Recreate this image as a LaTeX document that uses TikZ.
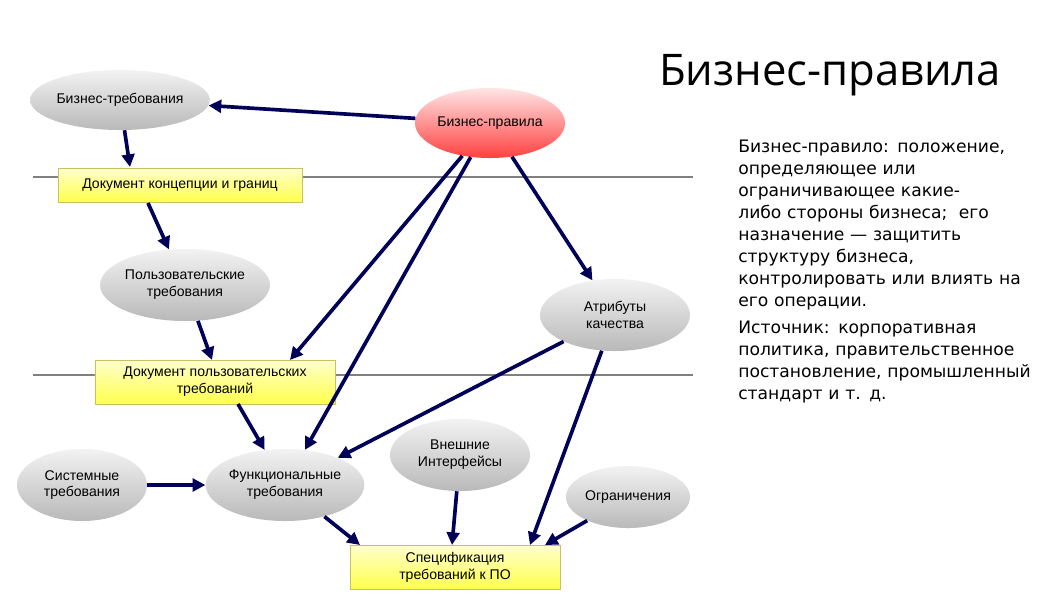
\documentclass[tikz,border=0pt]{standalone}
\usepackage{fontspec}
\setmainfont{Liberation Sans}
\newfontfamily\deffont{DejaVu Sans}
\newfontfamily\titlefont{Open Sans}
\usetikzlibrary{arrows.meta,shapes.geometric}

\tikzset{
  ell/.style={ellipse,top color=gray!10,bottom color=gray!55,draw=none,font=\fontsize{10}{12}\selectfont,align=center,inner sep=0pt},
  redell/.style={ell,top color=red!10,bottom color=red!75},
  doc/.style={rectangle,top color=yellow!20,bottom color=yellow!70,draw=yellow!50!gray,font=\fontsize{10}{12}\selectfont,align=center,inner sep=2pt},
  arr/.style={-{Triangle[length=9pt,width=9pt]},line width=2.6pt,draw=blue!35!black},
  sep/.style={line width=2pt,draw=gray}
}

\begin{document}
\begin{tikzpicture}[x=0.025cm,y=-0.025cm]
 \useasboundingbox[fill=white] (0,0) rectangle (1058,595);
 \draw[sep] (33,177) -- (693,177);
 \draw[sep] (33,375) -- (693,375);
 % nodes
 \node[ell,minimum width=4cm,minimum height=1.5cm] (bt) at (120,100) {Бизнес-требования};
 \node[redell,minimum width=3.75cm,minimum height=1.75cm] (bp) at (490,123) {Бизнес-правила};
 \node[doc,minimum width=6.1cm,minimum height=0.85cm] (dk) at (180,185) {Документ концепции и границ};
 \node[ell,minimum width=3.8cm,minimum height=1.8cm] (pt) at (185,285) {Пользовательские\\требования};
 \node[ell,minimum width=3.75cm,minimum height=1.8cm] (ak) at (615,315) {Атрибуты\\качества};
 \node[doc,minimum width=6cm,minimum height=1.1cm] (dp) at (215,382) {Документ пользовательских\\требований};
 \node[ell,minimum width=3.25cm,minimum height=1.8cm] (st) at (82,485) {Системные\\требования};
 \node[ell,minimum width=3.75cm,minimum height=1.8cm] (ft) at (285,485) {Функциональные\\требования};
 \node[ell,minimum width=3.5cm,minimum height=1.8cm] (vi) at (460,455) {Внешние\\Интерфейсы};
 \node[ell,minimum width=3.1cm,minimum height=1.55cm] (og) at (628,497) {Ограничения};
 \node[doc,minimum width=5.25cm,minimum height=1.1cm] (sp) at (455,567) {Спецификация\\требований к ПО};
 % arrows
 \draw[arr] (bp) -- (bt);
 \draw[arr] (bt) -- (130,167);
 \draw[arr] (148,203) -- (pt);
 \draw[arr] (pt) -- (212,360);
 \draw[arr] (bp) -- (290,360);
 \draw[arr] (bp) -- (ft);
 \draw[arr] (bp) -- (ak);
 \draw[arr] (ak) -- (ft);
 \draw[arr] (ak) -- (530,545);
 \draw[arr] (238,404) -- (ft);
 \draw[arr] (st) -- (ft);
 \draw[arr] (ft) -- (360,545);
 \draw[arr] (vi) -- (452,545);
 \draw[arr] (og) -- (545,545);
 % text
 \node[font=\titlefont\fontsize{31}{36}\selectfont] (title) at (830,75) {Бизнес-правила};
 \node[anchor=north west,align=left,text width=7.6cm,inner sep=0pt,font=\deffont\fontsize{12.2}{15.6}\selectfont] (def) at (738,140)
  {Бизнес-правило: положение, определяющее или ограничивающее какие-либо стороны бизнеса;\ \ его назначение — защитить структуру бизнеса, контролировать или влиять на его операции.\\[4pt]
  Источник: корпоративная политика, правительственное постановление, промышленный стандарт и т. д.};
\end{tikzpicture}
\end{document}
